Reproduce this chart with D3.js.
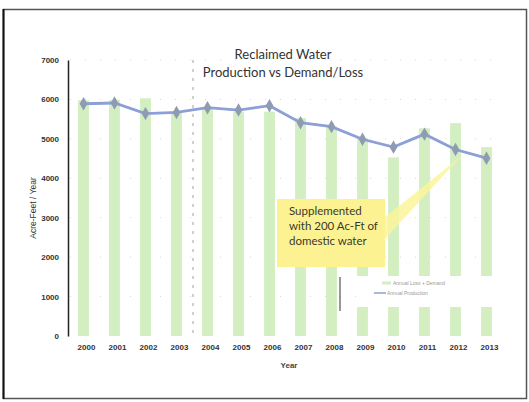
<!DOCTYPE html>
<html>
<head>
<meta charset="utf-8">
<script src="https://cdn.jsdelivr.net/npm/d3@7"></script>
<style>
  html, body { margin: 0; padding: 0; background: #fff; }
  svg { display: block; }
</style>
</head>
<body>
<svg id="plot"></svg>
<script>
const width = 529;
const height = 402;

// data
const years = ['2000','2001','2002','2003','2004','2005','2006','2007','2008','2009','2010','2011','2012','2013'];
const lossDemand = [5980, 5990, 6030, 5690, 5800, 5690, 5690, 5530, 5310, 5020, 4530, 5270, 5400, 4790];
const production = [5890, 5910, 5640, 5670, 5790, 5730, 5840, 5410, 5310, 4990, 4790, 5120, 4730, 4510];
const yTicks = [0, 1000, 2000, 3000, 4000, 5000, 6000, 7000];
const titleLines = ['Reclaimed Water', 'Production vs Demand/Loss'];
const noteLines = ['Supplemented', 'with 200 Ac-Ft of', 'domestic water'];
const legendNames = ['Annual Loss + Demand', 'Annual Production'];

let svg, sx, sy;

function main(){
  svg = d3.select('svg#plot')
  .attr('width', width)
  .attr('height', height);

  sx = d3.scaleBand()
  .domain(years)
  .range([68, 502])
  .paddingInner(0.65)
  .paddingOuter(0.325);

  sy = d3.scaleLinear()
  .domain([0, 7000])
  .range([336, 60]);

  drawFrame();
  drawGrid();
  drawBars();
  drawLine();
  drawAxes();
  drawTitle();
  drawLegend();
  drawNote();
}

function drawFrame(){
  svg.append('rect')
  .attr('x', 3.5).attr('y', 9.5)
  .attr('width', 523).attr('height', 389)
  .attr('fill', 'none')
  .attr('stroke', '#555')
  .attr('stroke-width', 1.5);
  // left edge is darker in the scan
  svg.append('line')
  .attr('x1', 3.5).attr('x2', 3.5)
  .attr('y1', 9).attr('y2', 399)
  .attr('stroke', '#111')
  .attr('stroke-width', 2);
}

function drawGrid(){
  svg.selectAll('.grid')
  .data(yTicks.slice(1))
  .enter()
  .append('line')
  .attr('class', 'grid')
  .attr('x1', 70).attr('x2', 500)
  .attr('y1', d=>sy(d)).attr('y2', d=>sy(d))
  .attr('stroke', '#d8d8d8')
  .attr('stroke-width', 1)
  .attr('stroke-dasharray', '1,14');

  // dashed divider between 2003 and 2004
  let xd = sx('2004') - sx.step()*sx.paddingInner()/2 + 1;
  svg.append('line')
  .attr('x1', xd).attr('x2', xd)
  .attr('y1', sy(7000)).attr('y2', sy(0))
  .attr('stroke', '#888')
  .attr('stroke-width', 0.8)
  .attr('stroke-dasharray', '3,6');
}

function drawBars(){
  svg.selectAll('.bar')
  .data(lossDemand)
  .enter()
  .append('rect')
  .attr('class', 'bar')
  .attr('x', (d,i)=>sx(years[i]))
  .attr('y', d=>sy(d))
  .attr('width', sx.bandwidth())
  .attr('height', d=>sy(0)-sy(d))
  .attr('fill', '#d3efc2');
}

function drawLine(){
  let cx = (d,i)=>sx(years[i]) + sx.bandwidth()/2;
  let line = d3.line()
  .x(cx)
  .y(d=>sy(d));

  svg.append('path')
  .datum(production)
  .attr('d', line)
  .attr('fill', 'none')
  .attr('stroke', '#8c9fd6')
  .attr('stroke-width', 2.8);

  svg.selectAll('.pt')
  .data(production)
  .enter()
  .append('path')
  .attr('class', 'pt')
  .attr('d', d3.symbol().type(d3.symbolDiamond).size(52))
  .attr('transform', (d,i)=>`translate(${cx(d,i)},${sy(d)})`)
  .attr('fill', '#8e9bb3');
}

function drawAxes(){
  let yAxis = d3.axisLeft(sy)
  .tickValues(yTicks)
  .tickFormat(d3.format('d'))
  .tickSize(0)
  .tickPadding(9);

  let gy = svg.append('g')
  .attr('transform', 'translate(68,0)')
  .call(yAxis);
  gy.select('.domain')
  .attr('stroke', '#222')
  .attr('stroke-width', 1.5);
  gy.selectAll('text')
  .attr('font-family', 'Liberation Sans, Arial, sans-serif')
  .attr('font-size', 8)
  .attr('font-weight', 'bold')
  .attr('fill', '#333');

  let xAxis = d3.axisBottom(sx)
  .tickSize(0)
  .tickPadding(8);

  let gx = svg.append('g')
  .attr('transform', `translate(0,${sy(0)})`)
  .call(xAxis);
  gx.select('.domain').remove();
  gx.selectAll('text')
  .attr('dx', 3)
  .attr('font-family', 'Liberation Sans, Arial, sans-serif')
  .attr('font-size', 8)
  .attr('font-weight', 'bold')
  .attr('fill', '#333');

  svg.append('text')
  .attr('x', 289).attr('y', 368)
  .attr('text-anchor', 'middle')
  .attr('font-family', 'Liberation Sans, Arial, sans-serif')
  .attr('font-size', 8)
  .attr('font-weight', 'bold')
  .attr('fill', '#444')
  .text('Year');

  svg.append('text')
  .attr('transform', 'translate(36,208) rotate(-90)')
  .attr('text-anchor', 'middle')
  .attr('font-family', 'Liberation Sans, Arial, sans-serif')
  .attr('font-size', 8.5)
  .attr('fill', '#333')
  .text('Acre-Feet / Year');
}

function drawTitle(){
  svg.selectAll('.title')
  .data(titleLines)
  .enter()
  .append('text')
  .attr('class', 'title')
  .attr('x', 283)
  .attr('y', (d,i)=>59 + i*18)
  .attr('text-anchor', 'middle')
  .attr('font-family', 'Lato, Open Sans, sans-serif')
  .attr('font-size', 13)
  .attr('fill', '#333')
  .text(d=>d);
}

function drawLegend(){
  svg.append('rect')
  .attr('x', 356).attr('y', 276)
  .attr('width', 145).attr('height', 31)
  .attr('fill', '#fff');

  let g = svg.append('g');
  legendNames.forEach((name, i)=>{
    let y = 283 + i*10;
    g.append('line')
    .attr('x1', i==0 ? 382 : 374).attr('x2', i==0 ? 391 : 386)
    .attr('y1', y).attr('y2', y)
    .attr('stroke', i==0 ? '#d3efc2' : '#8c9fd6')
    .attr('stroke-width', i==0 ? 3 : 1.5);
    g.append('text')
    .attr('x', i==0 ? 393 : 387)
    .attr('y', y + 1.8)
    .attr('font-family', 'Liberation Sans, Arial, sans-serif')
    .attr('font-size', 5)
    .attr('fill', '#999')
    .text(name);
  });

  // stray dark mark on the scan
  svg.append('line')
  .attr('x1', 340).attr('x2', 340)
  .attr('y1', 277).attr('y2', 311)
  .attr('stroke', '#333')
  .attr('stroke-width', 1);
}

function drawNote(){
  // pointer wedge towards the 2013 point
  svg.append('path')
  .attr('d', d3.line()([[384, 218], [384, 240], [sx('2013') - 20, sy(4560)]]))
  .attr('fill', '#fbf49b')
  .attr('opacity', 0.85);

  svg.append('rect')
  .attr('x', 277).attr('y', 199)
  .attr('width', 108).attr('height', 68)
  .attr('fill', '#fcf292');

  svg.selectAll('.note')
  .data(noteLines)
  .enter()
  .append('text')
  .attr('class', 'note')
  .attr('x', 289)
  .attr('y', (d,i)=>215 + i*15)
  .attr('font-family', 'Lato, Open Sans, sans-serif')
  .attr('font-size', 11.5)
  .attr('fill', '#3a3a2a')
  .text(d=>d);
}

document.addEventListener('DOMContentLoaded', main);
</script>
</body>
</html>
